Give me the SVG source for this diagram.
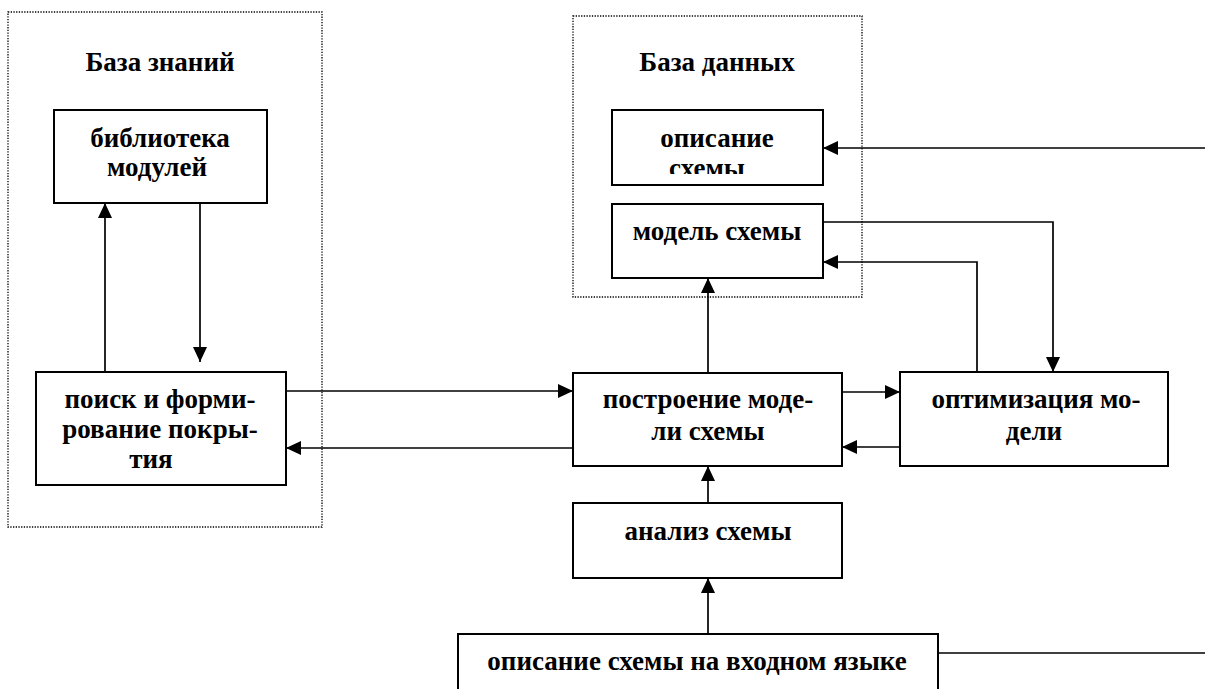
<svg xmlns="http://www.w3.org/2000/svg" width="1205" height="689" viewBox="0 0 1205 689">
  <style>
    .box { fill: #fff; stroke: #000; stroke-width: 2; }
    .group { fill: none; stroke: #000; stroke-width: 1.3; stroke-dasharray: 1.3 1.4; }
    .lbl { font-family: 'Liberation Serif', 'DejaVu Serif', serif; font-weight: 700; font-size: 27px; fill: #000; text-anchor: middle; }
    .wire { fill: none; stroke: #000; stroke-width: 1.7; }
    .arr { marker-end: url(#head); }
  </style>
  <defs>
    <marker id="head" viewBox="0 0 15 14" refX="15" refY="7" markerWidth="15" markerHeight="14" markerUnits="userSpaceOnUse" orient="auto">
      <path d="M0,0 L15,7 L0,14 z" fill="#000"/>
    </marker>
    <clipPath id="clip-desc">
      <rect x="612" y="110" width="211" height="64"/>
    </clipPath>
  </defs>
  <rect width="1205" height="689" fill="#fff"/>

  <!-- dotted group frames -->
  <g id="knowledge-base">
    <rect class="group" x="8" y="12" width="314" height="515"/>
    <text class="lbl" x="160" y="71">База знаний</text>
  </g>
  <g id="database">
    <rect class="group" x="573" y="16" width="289" height="281"/>
    <text class="lbl" x="717" y="71">База данных</text>
  </g>

  <!-- connectors -->
  <g id="connectors">
    <path class="wire arr" d="M105,372 L105,203"/>
    <path class="wire arr" d="M200,203 L200,362"/>
    <path class="wire arr" d="M286,391 L573,391"/>
    <path class="wire arr" d="M573,448 L286,448"/>
    <path class="wire arr" d="M708,373 L708,278"/>
    <path class="wire arr" d="M842,392 L900,392"/>
    <path class="wire arr" d="M900,447 L842,447"/>
    <path class="wire arr" d="M823,222 L1053,222 L1053,372"/>
    <path class="wire arr" d="M977,372 L977,262 L823,262"/>
    <path class="wire arr" d="M708,503 L708,466"/>
    <path class="wire arr" d="M708,634 L708,578"/>
    <path class="wire" d="M938,653 L1205,653"/>
    <path class="wire arr" d="M1205,148 L823,148"/>
  </g>

  <!-- nodes -->
  <g id="module-library">
    <rect class="box" x="54" y="110" width="213" height="93"/>
    <text class="lbl" x="160" y="147">библиотека</text>
    <text class="lbl" x="157" y="176">модулей</text>
  </g>
  <g id="scheme-description">
    <rect class="box" x="612" y="110" width="211" height="75"/>
    <g clip-path="url(#clip-desc)">
      <text class="lbl" x="717" y="147">описание</text>
      <text class="lbl" x="707" y="177">схемы</text>
    </g>
  </g>
  <g id="scheme-model">
    <rect class="box" x="612" y="204" width="211" height="74"/>
    <text class="lbl" x="717" y="240">модель схемы</text>
  </g>
  <g id="cover-search">
    <rect class="box" x="36" y="372" width="250" height="113"/>
    <text class="lbl" x="160" y="408">поиск и форми-</text>
    <text class="lbl" x="160" y="438">рование покры-</text>
    <text class="lbl" x="151" y="468">тия</text>
  </g>
  <g id="model-build">
    <rect class="box" x="573" y="373" width="269" height="93"/>
    <text class="lbl" x="708" y="408">построение моде-</text>
    <text class="lbl" x="708" y="440">ли схемы</text>
  </g>
  <g id="model-optimization">
    <rect class="box" x="900" y="372" width="268" height="94"/>
    <text class="lbl" x="1036" y="408">оптимизация мо-</text>
    <text class="lbl" x="1034" y="440">дели</text>
  </g>
  <g id="scheme-analysis">
    <rect class="box" x="573" y="503" width="269" height="75"/>
    <text class="lbl" x="708" y="540">анализ схемы</text>
  </g>
  <g id="input-description">
    <rect class="box" x="458" y="634" width="480" height="70"/>
    <text class="lbl" x="697" y="670">описание схемы на входном языке</text>
  </g>
</svg>
